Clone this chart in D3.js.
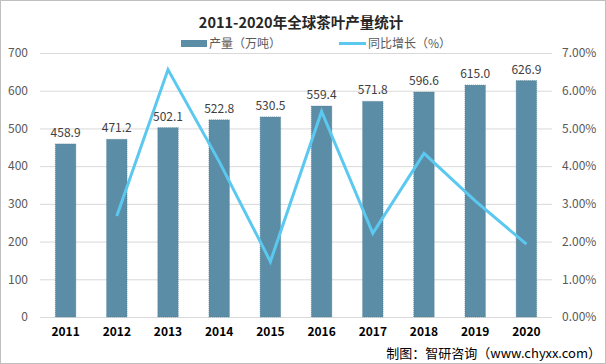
<!DOCTYPE html>
<html><head><meta charset="utf-8">
<script src="https://cdn.jsdelivr.net/npm/d3@7"></script>
<style>body{margin:0;background:#fff}svg{display:block}text{font-family:"Noto Sans CJK SC","Noto Sans",sans-serif}</style>
</head><body><svg id="c" width="606" height="364"></svg>
<script>
const years = ["2011","2012","2013","2014","2015","2016","2017","2018","2019","2020"];
const output = [458.9,471.2,502.1,522.8,530.5,559.4,571.8,596.6,615.0,626.9];
const growth = [null,2.68,6.56,4.12,1.47,5.45,2.22,4.34,3.08,1.93];
const leftTicks = [0,100,200,300,400,500,600,700];
const rightTicks = [0,1,2,3,4,5,6,7];

const svg = d3.select("#c");
svg.append("rect").attr("x",0.5).attr("y",0.5).attr("width",605).attr("height",363).attr("fill","#fff").attr("stroke","#bfbfbf");

const x0=40,x1=552,yTop=53,yBot=317;
const x = d3.scaleBand().domain(years).range([x0,x1]).paddingInner(0.6).paddingOuter(0.3);
const y = d3.scaleLinear().domain([0,700]).range([yBot,yTop]);
const y2 = d3.scaleLinear().domain([0,7]).range([yBot,yTop]);

// gridlines
svg.append("g").selectAll("line").data(leftTicks).join("line")
  .attr("x1",x0).attr("x2",x1).attr("y1",d=>y(d)+0.5).attr("y2",d=>y(d)+0.5)
  .attr("stroke","#d9d9d9").attr("stroke-width",1);

// left axis
const la = svg.append("g").attr("transform",`translate(${x0},0)`)
  .call(d3.axisLeft(y).tickValues(leftTicks).tickSize(0).tickPadding(12));
la.select(".domain").remove();
la.selectAll("text").attr("fill","#595959").attr("font-size",12);

// right axis
const ra = svg.append("g").attr("transform",`translate(${x1},0)`)
  .call(d3.axisRight(y2).tickValues(rightTicks).tickSize(0).tickPadding(10).tickFormat(d=>d.toFixed(2)+"%"));
ra.select(".domain").remove();
ra.selectAll("text").attr("fill","#595959").attr("font-size",12);

// x axis
const xa = svg.append("g").attr("transform",`translate(0,${yBot})`)
  .call(d3.axisBottom(x).tickSize(0).tickPadding(10));
xa.select(".domain").remove();
xa.selectAll("text").attr("fill","#000").attr("font-size",12).attr("font-weight","bold");

// bars
svg.append("g").selectAll("rect").data(years).join("rect")
  .attr("x",d=>x(d)).attr("width",x.bandwidth())
  .attr("y",(d,i)=>y(output[i])).attr("height",(d,i)=>yBot-y(output[i]))
  .attr("fill","#5b8ea6").attr("stroke","#4a7488").attr("stroke-width",0.6).attr("stroke-dasharray","1,1");

// bar labels
svg.append("g").selectAll("text").data(years).join("text")
  .attr("x",d=>x(d)+x.bandwidth()/2).attr("y",(d,i)=>y(output[i])-7)
  .attr("text-anchor","middle").attr("font-size",12).attr("fill","#404040")
  .text((d,i)=>output[i].toFixed(1));

// line
const pts = years.map((d,i)=>({d,v:growth[i]})).filter(p=>p.v!==null);
svg.append("path").datum(pts)
  .attr("d",d3.line().x(p=>x(p.d)+x.bandwidth()/2).y(p=>y2(p.v)))
  .attr("fill","none").attr("stroke","#5bc8f0").attr("stroke-width",3).attr("stroke-linejoin","miter");

// title
svg.append("text").attr("x",301).attr("y",28).attr("text-anchor","middle")
  .attr("font-size",14.5).attr("font-weight","bold").attr("fill","#262626")
  .text("2011-2020年全球茶叶产量统计");

// legend
svg.append("rect").attr("x",181).attr("y",40).attr("width",26).attr("height",7).attr("fill","#5b8ea6");
svg.append("text").attr("x",209).attr("y",48).attr("font-size",12).attr("fill","#595959").text("产量（万吨）");
svg.append("line").attr("x1",339).attr("x2",366).attr("y1",43.5).attr("y2",43.5).attr("stroke","#5bc8f0").attr("stroke-width",3);
svg.append("text").attr("x",368).attr("y",48).attr("font-size",12).attr("fill","#595959").text("同比增长（%）");

// footer
svg.append("text").attr("x",601).attr("y",358).attr("text-anchor","end")
  .attr("font-size",13).attr("fill","#000").text("制图：智研咨询（www.chyxx.com）");
</script></body></html>
